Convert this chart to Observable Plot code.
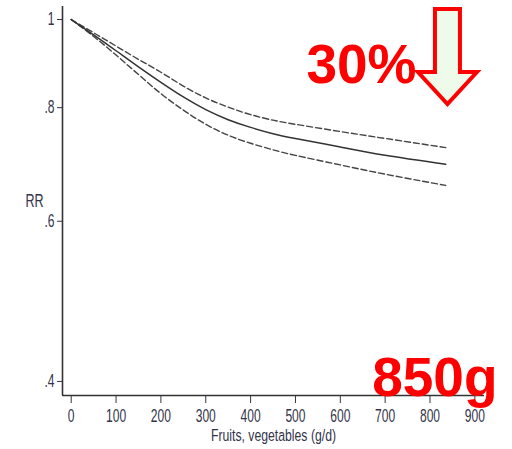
<!DOCTYPE html>
<html><head><meta charset="utf-8">
<script src="https://cdn.jsdelivr.net/npm/d3@7"></script>
<script src="https://cdn.jsdelivr.net/npm/@observablehq/plot@0.6"></script>
<style>body{margin:0;background:#fff} #chart{width:512px;height:449px}</style>
</head><body><div id="chart"></div>
<script>
// Data
const intake  = [0, 50, 100, 150, 200, 250, 300, 350, 400, 450, 500, 600, 700, 835];
const rr      = [1.0, 0.962, 0.924, 0.887, 0.853, 0.822, 0.796, 0.776, 0.761, 0.749, 0.740, 0.724, 0.709, 0.693];
const rrUpper = [1.0, 0.967, 0.935, 0.904, 0.875, 0.845, 0.820, 0.801, 0.786, 0.775, 0.767, 0.753, 0.740, 0.723];
const rrLower = [1.0, 0.958, 0.914, 0.870, 0.829, 0.795, 0.767, 0.746, 0.731, 0.719, 0.709, 0.692, 0.676, 0.657];
const xTicks = [0, 100, 200, 300, 400, 500, 600, 700, 800, 900];
const yTicks = [1, 0.8, 0.6, 0.4];
const yTickLabels = ["1", ".8", ".6", ".4"];
const xLabel = "Fruits, vegetables (g/d)";
const yLabel = "RR";
const reductionLabel = "30%";
const intakeLabel = "850g";
const arrowAt = 840;

(function () {
const xDomain = [-19.4, 921.5];
const yDomain = [0.386, 1.0335];
const rows = intake.map((g, i) => ({g, rr: rr[i], lo: rrLower[i], hi: rrUpper[i]}));
const font = "'Liberation Sans',Arial,sans-serif";
const axisColor = "#333";
const textColor = "#33344a";
const red = "#ff0000";
// horizontal squeeze per font size (original lettering is condensed)
const squeeze = {"18px": 0.67, "17px": 0.72, "19px": 0.66};

const plot = Plot.plot({
  width: 512, height: 449,
  marginLeft: 62, marginRight: 28, marginTop: 6, marginBottom: 54,
  style: {fontFamily: font, fontSize: "18px", color: textColor, background: "#fff", overflow: "visible"},
  x: {domain: xDomain, ticks: xTicks, tickSize: 8, tickPadding: 6, label: null},
  y: {type: "log", domain: yDomain, ticks: yTicks,
      tickFormat: d => yTickLabels[yTicks.indexOf(d)], tickSize: 5, tickPadding: 3, label: null},
  marks: [
    Plot.ruleX([xDomain[0]], {stroke: axisColor, strokeWidth: 1.6}),
    Plot.ruleY([yDomain[0]], {stroke: axisColor, strokeWidth: 1.6}),
    Plot.line(rows, {x: "g", y: "hi", stroke: "#444", strokeWidth: 1.4, strokeDasharray: "6,3", curve: "natural"}),
    Plot.line(rows, {x: "g", y: "lo", stroke: "#444", strokeWidth: 1.4, strokeDasharray: "6,3", curve: "natural"}),
    Plot.line(rows, {x: "g", y: "rr", stroke: "#333", strokeWidth: 1.5, curve: "natural"}),
    Plot.text([xLabel], {frameAnchor: "bottom", dy: 40, lineAnchor: "middle", fontSize: 17, fill: textColor}),
    Plot.text([yLabel], {frameAnchor: "left", textAnchor: "end", dx: -19, lineAnchor: "middle", fontSize: 19, fill: textColor}),
    Plot.text([reductionLabel], {frameAnchor: "top-right", textAnchor: "end", lineAnchor: "bottom", dx: -68, dy: 76,
      fontSize: 55, fontWeight: "bold", fill: red}),
    Plot.text([intakeLabel], {frameAnchor: "bottom-right", textAnchor: "end", lineAnchor: "bottom", dx: 13, dy: 0,
      fontSize: 55, fontWeight: "bold", fill: red})
  ]
});

// Decorative down arrow annotation
const cx = plot.scale("x").apply(arrowAt);
const sw = 12.5, hw = 29.5, yTop = 9, yBase = 72, yTip = 104;
d3.select(plot).append("path")
  .attr("d", `M${cx - sw},${yTop}H${cx + sw}V${yBase}H${cx + hw}L${cx},${yTip}L${cx - hw},${yBase}H${cx - sw}Z`)
  .attr("fill", "#eefbea").attr("stroke", red).attr("stroke-width", 4).attr("stroke-linejoin", "miter");

document.getElementById("chart").append(plot);

// Squeeze grey texts horizontally about their anchor
Array.from(plot.querySelectorAll("text")).forEach(t => {
  const g = t.closest("g");
  if (g && g.getAttribute("fill") === red) return;
  const cs = getComputedStyle(t);
  const s = squeeze[cs.fontSize] || 0.7;
  const r = t.getBoundingClientRect();
  const anchor = cs.textAnchor;
  const ax = anchor === "middle" ? r.left + r.width / 2 : anchor === "end" ? r.right : r.left;
  const parent = t.parentNode;
  const m = parent.getScreenCTM();
  const lx = (ax - m.e) / m.a;
  const wrap = document.createElementNS("http://www.w3.org/2000/svg", "g");
  wrap.setAttribute("transform", `translate(${lx},0) scale(${s},1) translate(${-lx},0)`);
  parent.insertBefore(wrap, t);
  wrap.appendChild(t);
});
})();
</script>
</body></html>
